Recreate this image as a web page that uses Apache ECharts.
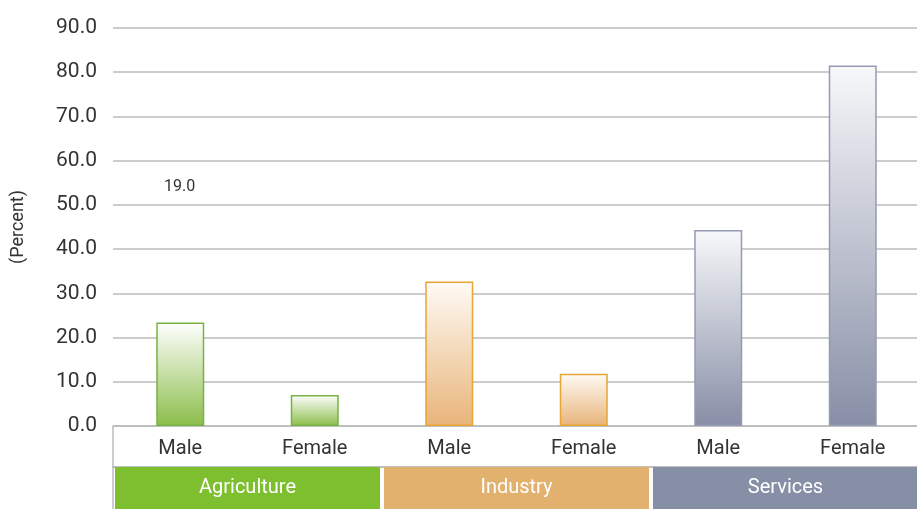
<!DOCTYPE html>
<html>
<head>
<meta charset="utf-8">
<script src="https://cdn.jsdelivr.net/npm/echarts@6/dist/echarts.min.js"></script>
<style>
  html, body { margin: 0; padding: 0; background: #fff; }
  #chart { width: 917px; height: 509px; }
</style>
</head>
<body>
<div id="chart"></div>
<script>
const categories = ['Male', 'Female', 'Male', 'Female', 'Male', 'Female']
const groups = ['Agriculture', 'Industry', 'Services']
const values = [23.4, 7.0, 32.7, 11.8, 44.3, 81.5]
const yTicks = [0, 10, 20, 30, 40, 50, 60, 70, 80, 90]
const strayLabel = '19.0'

// look per group: gradient top, gradient bottom, border, band colour
const groupStyles = [
  { top: '#ffffff', bottom: '#8bbd4a', border: '#78b243', band: '#7dbf2e' },
  { top: '#fffbf6', bottom: '#e8b479', border: '#e6a534', band: '#e2b16e' },
  { top: '#f7f8fa', bottom: '#878ea6', border: '#959bb2', band: '#878fa7' }
]

const font = 'Roboto, sans-serif'
const gridLeft = 113
const gridBottom = 83

const chart = echarts.init(document.getElementById('chart'))

const barData = values.map((v, i) => {
  const s = groupStyles[Math.floor(i / 2)]
  return {
    value: v,
    itemStyle: {
      color: new echarts.graphic.LinearGradient(0, 0, 0, 1, [
        { offset: 0, color: s.top },
        { offset: 1, color: s.bottom }
      ]),
      borderColor: s.border,
      borderWidth: 1.5
    }
  }
})

const rich = {}
groups.forEach((g, i) => {
  rich['g' + i] = {
    backgroundColor: groupStyles[i].band,
    color: '#fff',
    width: 265,
    height: 42,
    lineHeight: 42,
    align: 'center',
    fontSize: 20,
    fontFamily: font
  }
})

chart.setOption({
  animation: false,
  grid: { left: gridLeft, right: -3, top: 28, bottom: gridBottom, outerBoundsMode: 'none', containLabel: false },
  xAxis: [
    {
      type: 'category',
      data: categories,
      axisLine: { show: true, lineStyle: { color: '#bbbbbb', width: 1.5 } },
      axisTick: { show: false },
      axisLabel: { color: '#333', fontSize: 20, margin: 13, fontFamily: font }
    },
    {
      type: 'category',
      data: groups,
      position: 'bottom',
      offset: 41,
      axisLine: { show: true, lineStyle: { color: '#aaaaaa', width: 1.5 } },
      axisTick: { show: false },
      axisLabel: {
        margin: 0,
        formatter: (v) => '{g' + groups.indexOf(v) + '|' + v + '}',
        rich: rich
      }
    }
  ],
  yAxis: {
    type: 'value',
    min: yTicks[0],
    max: yTicks[yTicks.length - 1],
    interval: 10,
    name: '(Percent)',
    nameLocation: 'middle',
    nameGap: 86,
    nameTextStyle: { color: '#333', fontSize: 18, fontFamily: font },
    axisLine: { show: false },
    axisTick: { show: false },
    axisLabel: {
      color: '#333',
      fontSize: 21,
      margin: 16,
      fontFamily: font,
      formatter: (v) => v.toFixed(1)
    },
    splitLine: { lineStyle: { color: '#bbbbbb', width: 1.5 } }
  },
  series: [
    {
      type: 'bar',
      xAxisIndex: 0,
      barWidth: 48,
      data: barData
    }
  ],
  graphic: [
    {
      type: 'text',
      left: 164,
      top: 179,
      style: { text: strayLabel, fill: '#333', fontSize: 16, fontFamily: font }
    },
    {
      // left edge of the category label box
      type: 'line',
      shape: { x1: gridLeft, y1: 509 - gridBottom, x2: gridLeft, y2: 509 },
      style: { stroke: '#bbbbbb', lineWidth: 1.5 }
    }
  ]
})
</script>
</body>
</html>
